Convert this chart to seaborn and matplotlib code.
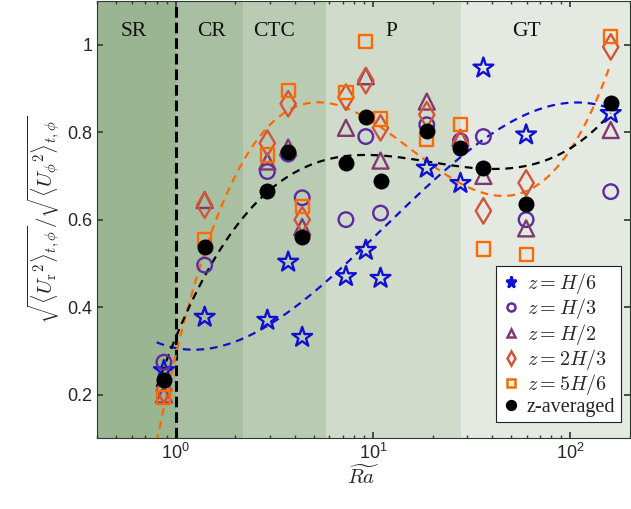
import numpy as np
import pandas as pd
import matplotlib
matplotlib.use("Agg")
import matplotlib.pyplot as plt
import seaborn as sns

# Modified Rayleigh number of each run
ra = [0.87, 1.40, 2.91, 3.71, 4.37, 7.28, 9.18, 10.9, 18.7, 27.7, 36.2, 59.6, 160.0]

# Velocity ratio sqrt(<Ur^2>)/sqrt(<Uphi^2>) at each height
u_h6 = [0.255, 0.377, 0.370, 0.503, 0.331, 0.470, 0.530, 0.466, 0.718, 0.683, 0.947, 0.794, 0.843]
u_h3 = [0.274, 0.496, 0.710, 0.750, 0.650, 0.600, 0.790, 0.615, 0.817, 0.780, 0.790, 0.600, 0.664]
u_h2 = [0.200, 0.645, 0.733, 0.765, 0.583, 0.810, 0.928, 0.735, 0.870, 0.787, 0.700, 0.580, 0.805]
u_2h3 = [0.210, 0.633, 0.775, 0.865, 0.600, 0.880, 0.918, 0.810, 0.840, 0.775, 0.620, 0.684, 0.995]
u_5h6 = [0.194, 0.555, 0.748, 0.895, 0.630, 0.890, 1.007, 0.830, 0.783, 0.817, 0.533, 0.520, 1.018]
u_avg = [0.233, 0.537, 0.665, 0.755, 0.560, 0.730, 0.835, 0.688, 0.803, 0.764, 0.718, 0.635, 0.866]

# Flow regimes
regime_names = ["SR", "CR", "CTC", "P", "GT"]
regime_edges = [0.4, 1.0, 2.2, 5.8, 28.0, 200.0]
regime_label_x = [0.61, 1.52, 3.16, 12.3, 59.6]
regime_colors = ["#9ab592", "#a9bfa1", "#bacbb3", "#d0dbcb", "#e4e9e2"]

sns.set_theme(style="ticks")
plt.rcParams.update({
    "font.family": ["Liberation Sans", "DejaVu Sans"],
    "mathtext.fontset": "cm",
    "xtick.direction": "in",
    "ytick.direction": "in",
    "xtick.top": True,
    "ytick.right": True,
    "xtick.major.size": 4,
    "ytick.major.size": 4,
    "xtick.minor.size": 2.2,
    "xtick.color": "#3a3a3a",
    "ytick.color": "#3a3a3a",
    "xtick.labelcolor": "#262626",
    "ytick.labelcolor": "#262626",
    "axes.edgecolor": "#2b3a2b",
    "axes.linewidth": 0.8,
})

fig = plt.figure(figsize=(6.31, 5.09), dpi=100)
ax = fig.add_axes([0.1542, 0.139, 0.844, 0.859])
ax.set_xscale("log")
ax.set_xlim(0.4, 200)
ax.set_ylim(0.1, 1.1)

for lo, hi, c in zip(regime_edges[:-1], regime_edges[1:], regime_colors):
    ax.axvspan(lo, hi, color=c, lw=0, zorder=0)
for name, xl in zip(regime_names, regime_label_x):
    ax.text(xl, 1.03, name, ha="center", va="center", fontsize=15.5,
            family="Liberation Serif", color="#111111")

ax.axvline(1.0, color="black", lw=2.2, ls=(0, (3.5, 1.6)), zorder=2)

series = [
    (r"$z=H/6$", u_h6, "*", "#1010d0", 15, False),
    (r"$z=H/3$", u_h3, "o", "#5b2ca0", 10.5, False),
    (r"$z=H/2$", u_h2, "^", "#7e3a70", 11.5, False),
    (r"$z=2H/3$", u_2h3, "d", "#d2553a", 13, False),
    (r"$z=5H/6$", u_5h6, "s", "#ff6a00", 9.5, False),
    ("z-averaged", u_avg, "o", "black", 11.5, True),
]

# Cubic fits in log(Ra) for the lowest, highest and averaged levels
ra_fit = np.logspace(np.log10(0.8), np.log10(160), 300)
for vals, col in [(u_h6, "#1010d0"), (u_5h6, "#ff6a00"), (u_avg, "black")]:
    coef = np.polyfit(np.log10(ra), vals, 3)
    fit = pd.DataFrame({"Ra": ra_fit, "v": np.polyval(coef, np.log10(ra_fit))})
    sns.lineplot(data=fit, x="Ra", y="v", ax=ax, color=col, lw=1.6,
                 ls=(0, (3.5, 2.6)), legend=False, zorder=3)

handles = []
for label, vals, mk, col, ms, filled in series:
    df = pd.DataFrame({"Ra": ra, "v": vals})
    sns.scatterplot(data=df, x="Ra", y="v", ax=ax, marker=mk, s=ms ** 2,
                    facecolor=col if filled else "none", edgecolor=col,
                    linewidth=0 if filled else 1.7, zorder=4, legend=False)
    handles.append(plt.Line2D([], [], ls="none", marker=mk, color=col,
                              markerfacecolor=col if (filled or mk == "*") else "none",
                              markeredgewidth=1.8, markersize=ms * 0.55,
                              label=label))

leg = ax.legend(handles=handles, loc="lower right", bbox_to_anchor=(0.99, 0.028),
                frameon=True, fancybox=False, framealpha=1, edgecolor="#222222",
                handletextpad=0.3, handlelength=1.0,
                borderpad=0.25, labelspacing=0.02, borderaxespad=0.2,
                prop={"family": "Liberation Serif", "size": 14.5})
leg.get_frame().set_linewidth(0.8)

ax.set_yticks([0.2, 0.4, 0.6, 0.8, 1.0])
ax.set_yticklabels(["0.2", "0.4", "0.6", "0.8", "1"])
ax.tick_params(axis="both", labelsize=13)
ax.set_xlabel(r"$\widetilde{Ra}$", fontsize=15, labelpad=1)
ax.set_ylabel(r"$\sqrt{\langle {U_{\rm r}}^2\rangle_{t,\phi}}/\sqrt{\langle {U_\phi}^2\rangle_{t,\phi}}$",
              fontsize=15, labelpad=4)

fig.savefig("out.png", dpi=100)
